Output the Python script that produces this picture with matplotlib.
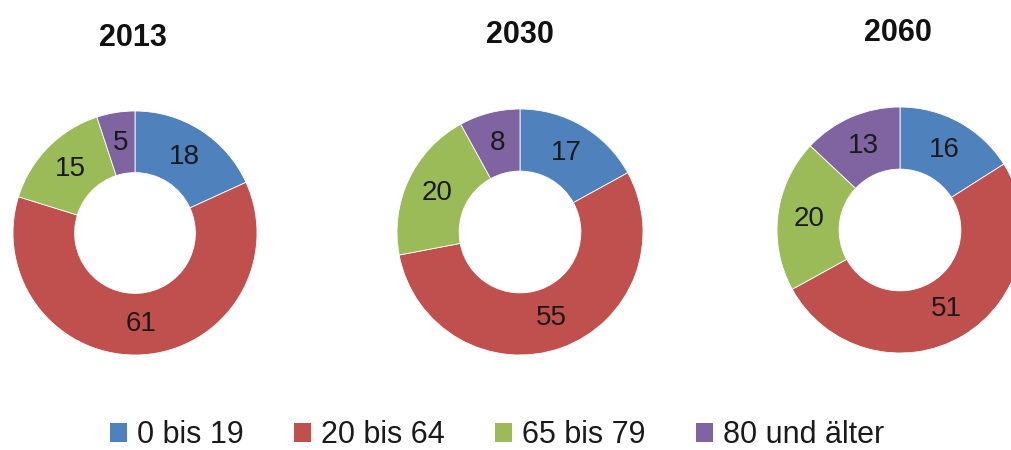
import matplotlib
matplotlib.use("Agg")
import matplotlib.pyplot as plt
from matplotlib.patches import Patch

plt.rcParams['font.family'] = ['Liberation Sans', 'DejaVu Sans']

years = ["2013", "2030", "2060"]
categories = ["0 bis 19", "20 bis 64", "65 bis 79", "80 und älter"]
values_2013 = [18, 61, 15, 5]
values_2030 = [17, 55, 20, 8]
values_2060 = [16, 51, 20, 13]
colors = ["#4F81BD", "#C0504D", "#9BBB59", "#8064A2"]

W, H = 1012, 450
fig = plt.figure(figsize=(W / 100, H / 100), dpi=100)

# centre (px), radius (px), title centre x, y (px)
layout = [((135, 233), 122, (133, 38)), ((520, 232), 123, (520, 35)), ((900, 230), 123, (898, 33))]
all_values = [values_2013, values_2030, values_2060]

for year, vals, ((cx, cy), R, (tx, ty)) in zip(years, all_values, layout):
    ax = fig.add_axes([(cx - R) / W, (H - cy - R) / H, 2 * R / W, 2 * R / H])
    wedges, texts = ax.pie(vals, colors=colors, startangle=90, counterclock=False,
                           radius=1, labels=[str(v) for v in vals], labeldistance=0.745,
                           wedgeprops=dict(width=0.505, edgecolor="white", linewidth=0.6),
                           textprops=dict(fontsize=20, color="#1a1a1a", ha="center", va="center"))
    ax.set_xlim(-1, 1)
    ax.set_ylim(-1, 1)
    ax.set_aspect("equal")
    ax.axis("off")
    fig.text(tx / W, 1 - ty / H, year, ha="center", va="center",
             fontsize=22, fontweight="bold", color="#111111")

handles = [Patch(facecolor=c, edgecolor="none") for c in colors]
fig.legend(handles, categories, loc="center", bbox_to_anchor=(497 / W, 1 - 435 / H),
           ncol=4, frameon=False, fontsize=22, handlelength=0.55, handleheight=0.6,
           handletextpad=0.33, columnspacing=1.65, labelcolor="#1a1a1a",
           borderpad=0, borderaxespad=0)

fig.savefig("out.png", dpi=100)
